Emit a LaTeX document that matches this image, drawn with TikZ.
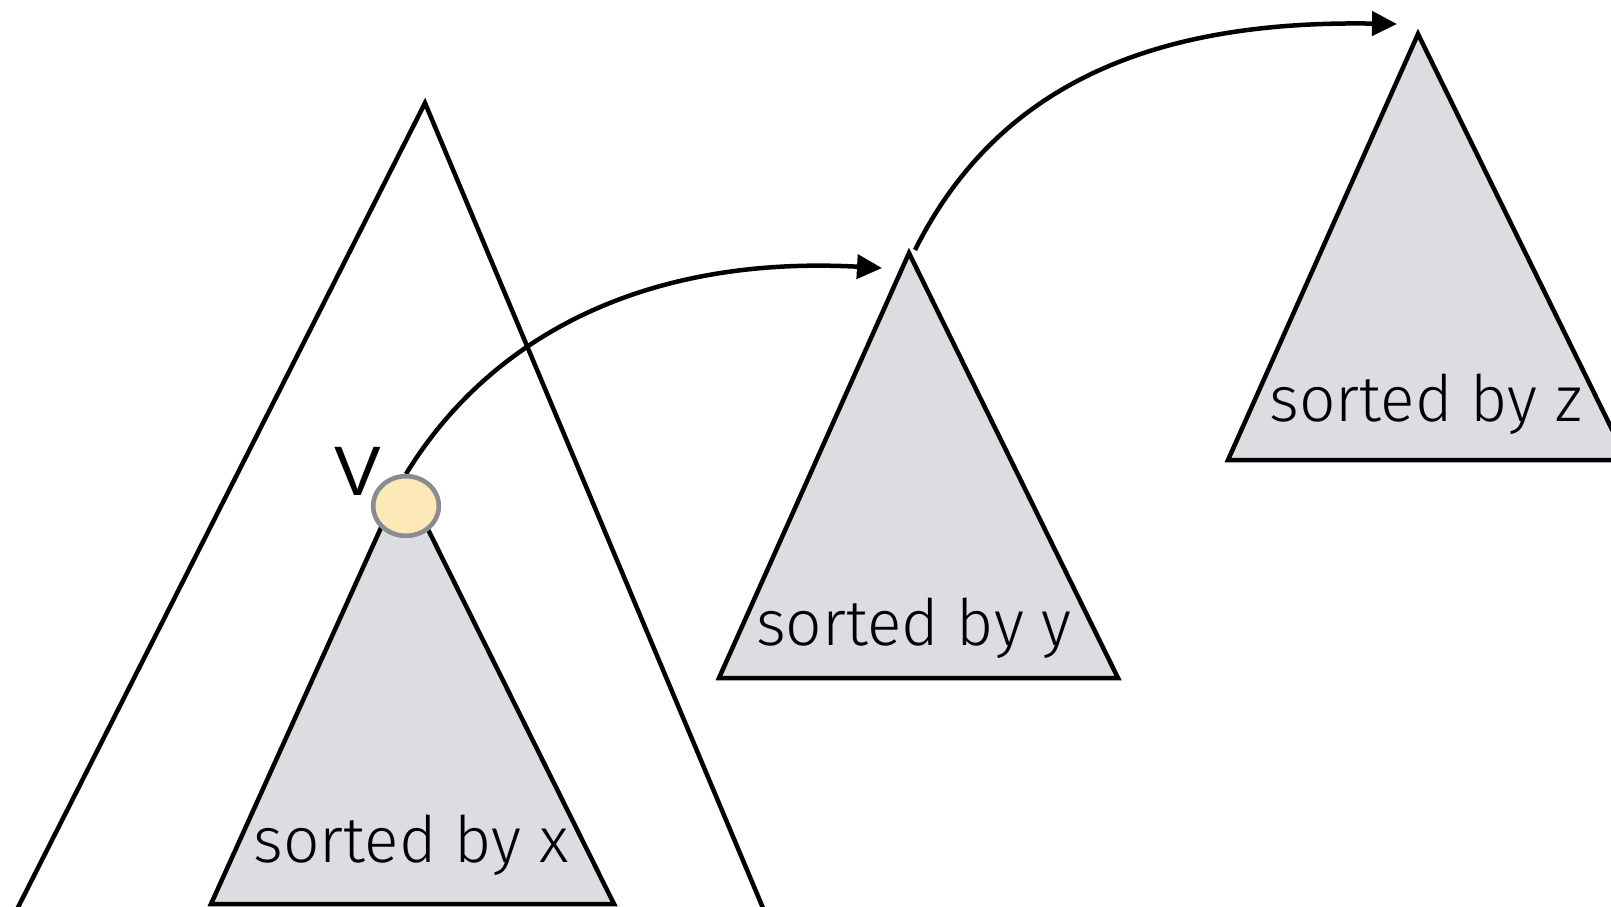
\documentclass[tikz,border=0pt]{standalone}
\usepackage{fontspec}
\setmainfont{Liberation Sans}
\newfontfamily\lightfont{Fira Sans Light}
\usetikzlibrary{arrows.meta,shapes.geometric}
\definecolor{trigray}{RGB}{220,221,224}
\definecolor{nodefill}{RGB}{253,233,183}
\definecolor{nodeedge}{RGB}{138,140,143}
\begin{document}
\begin{tikzpicture}[x=1pt,y=-1pt,line width=4.5pt,
  tri/.style={draw=black,fill=trigray,line join=miter},
  lbl/.style={font=\lightfont\fontsize{64}{66}\selectfont,anchor=base,inner sep=0pt},
  conn/.style={draw,-{Triangle[length=25pt,width=24pt]}},
  vnode/.style={ellipse,draw=nodeedge,fill=nodefill,line width=4.5pt,minimum width=65.5pt,minimum height=59.5pt,inner sep=0pt}]
\useasboundingbox (0,0) rectangle (1611,906);
\clip (0,0) rectangle (1611,906);
% big outer tree
\coordinate (bigA) at (425,103);
\coordinate (bigL) at (11.6,920);
\coordinate (bigR) at (768,920);
\draw[line join=miter] (bigL) -- (bigA) -- (bigR);
% subtree sorted by x
\coordinate (xA) at (403,479);
\coordinate (xL) at (211,904);
\coordinate (xR) at (614,904);
\path[tri] (xA) -- (xL) -- (xR) -- cycle;
\node[lbl] (lx) at (411,862) {sorted by x};
% tree sorted by y
\coordinate (yA) at (909,253);
\coordinate (yL) at (719,678);
\coordinate (yR) at (1118,678);
\path[tri] (yA) -- (yL) -- (yR) -- cycle;
\node[lbl] (ly) at (914,645) {sorted by y};
% tree sorted by z
\coordinate (zA) at (1418,34);
\coordinate (zL) at (1228,460);
\coordinate (zR) at (1627,460);
\path[tri] (zA) -- (zL) -- (zR) -- cycle;
\node[lbl] (lz) at (1426,421) {sorted by z};
% node v
\node[vnode] (v) at (406,506) {};
\coordinate (ytip) at (882,268);
\coordinate (ystart) at (915,250);
\coordinate (ztip) at (1397,24);
\draw[conn] (v.north) .. controls (488,340) and (640,255) .. (ytip);
\node[vnode] at (v) {};
\node[font=\fontsize{70}{72}\selectfont,anchor=base,inner sep=0pt] (vl) at (358,495) {V};
\draw[conn] (ystart) .. controls (1000,80) and (1160,20) .. (ztip);
\end{tikzpicture}
\end{document}
